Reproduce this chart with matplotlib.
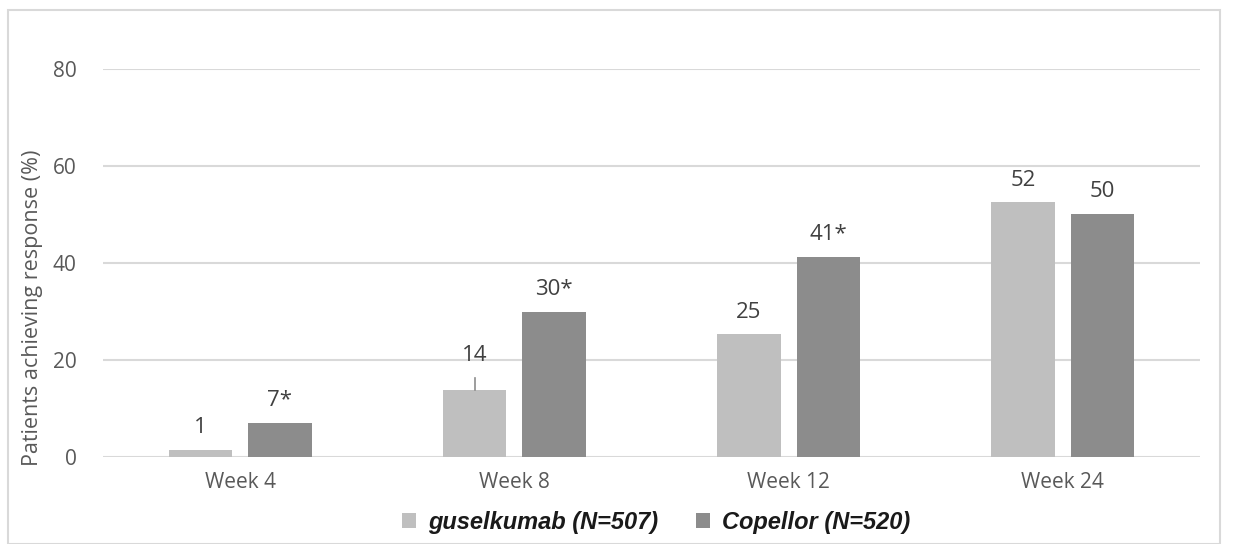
import matplotlib.pyplot as plt
import numpy as np
from matplotlib.patches import Rectangle

weeks = ["Week 4", "Week 8", "Week 12", "Week 24"]
guselkumab = [1.5, 13.8, 25.3, 52.5]
copellor = [7.0, 29.9, 41.3, 50.2]
guselkumab_err = [0, 2.5, 0, 0]
guselkumab_labels = ["1", "14", "25", "52"]
copellor_labels = ["7*", "30*", "41*", "50"]
series_names = ["guselkumab (N=507)", "Copellor (N=520)"]

light = "#bfbfbf"
dark = "#8c8c8c"
textgrey = "#595959"

fig = plt.figure(figsize=(12.37, 5.44), dpi=100)
ax = fig.add_axes([103 / 1237, 1 - 457 / 544, 1097 / 1237, 388 / 544])

# frame around the whole chart
fig.patches.append(Rectangle((8 / 1237, 0), 1212 / 1237, 1 - 10 / 544, transform=fig.transFigure,
                             fill=False, edgecolor="#d9d9d9", linewidth=1.5))

x = np.arange(len(weeks))
w = 0.232
off = 0.145
b1 = ax.bar(x - off, guselkumab, width=w, color=light, zorder=3, label=series_names[0])
b2 = ax.bar(x + off, copellor, width=w, color=dark, zorder=3, label=series_names[1])

# small error whisker on week 8
for i, e in enumerate(guselkumab_err):
    if e > 0:
        ax.plot([x[i] - off, x[i] - off], [guselkumab[i], guselkumab[i] + e], color="#8c8c8c", lw=1.2, zorder=4)

for i in range(len(weeks)):
    ax.annotate(guselkumab_labels[i], (x[i] - off, guselkumab[i] + guselkumab_err[i]), xytext=(0, 16),
                textcoords="offset points", ha="center", va="center", fontsize=16, color="#404040",
                family="Open Sans")
    ax.annotate(copellor_labels[i], (x[i] + off, copellor[i]), xytext=(0, 16),
                textcoords="offset points", ha="center", va="center", fontsize=16, color="#404040",
                family="Open Sans")

ax.set_xlim(-0.5, 3.5)
ax.set_ylim(0, 80)
ax.set_yticks([0, 20, 40, 60, 80])
ax.yaxis.grid(True, color="#d9d9d9", linewidth=1.5, zorder=0)
ax.set_axisbelow(True)
for s in ax.spines.values():
    s.set_visible(False)
ax.set_xticks(x, weeks)
ax.tick_params(axis="both", length=0, labelsize=15, labelcolor=textgrey)
ax.tick_params(axis="y", pad=19)
ax.tick_params(axis="x", pad=11)
for lab in ax.get_xticklabels() + ax.get_yticklabels():
    lab.set_family("Open Sans")

fig.text(33 / 1237, 1 - 308 / 544, "Patients achieving response (%)", rotation=90, ha="center", va="center",
         fontsize=15.5, color=textgrey, family="Open Sans")

leg = fig.legend(handles=[b1, b2], loc="center", bbox_to_anchor=(656 / 1237, 1 - 522 / 544), ncol=2,
                 frameon=False, prop={"family": "Liberation Sans", "weight": "bold", "style": "italic", "size": 17},
                 handlelength=0.6, handleheight=0.6, handletextpad=0.5, columnspacing=1.6)
for t in leg.get_texts():
    t.set_color("#1a1a1a")

plt.savefig("out.png", dpi=100)
plt.close()
